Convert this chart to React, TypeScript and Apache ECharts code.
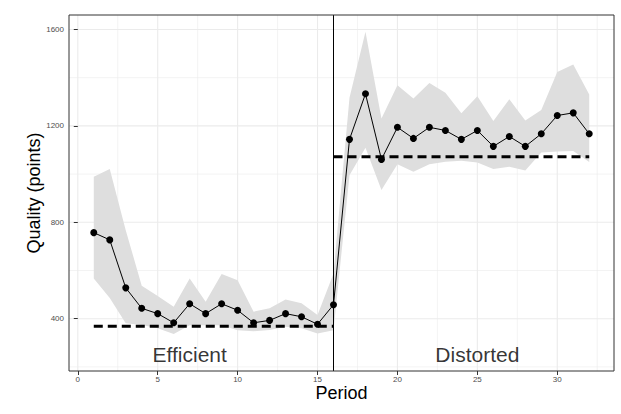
import React, { useEffect, useRef } from "react";
import * as echarts from "echarts";

const periods = [1, 2, 3, 4, 5, 6, 7, 8, 9, 10, 11, 12, 13, 14, 15, 16, 17, 18, 19, 20, 21, 22, 23, 24, 25, 26, 27, 28, 29, 30, 31, 32];
const quality = [757, 727, 528, 443, 421, 383, 462, 421, 462, 435, 383, 393, 421, 408, 377, 458, 1144, 1333, 1061, 1194, 1148, 1194, 1181, 1144, 1181, 1115, 1156, 1115, 1167, 1243, 1254, 1167];
const upperCI = [989, 1021, 767, 537, 494, 450, 567, 470, 585, 560, 429, 443, 480, 464, 415, 588, 1317, 1590, 1231, 1369, 1314, 1378, 1337, 1252, 1323, 1220, 1310, 1222, 1266, 1424, 1455, 1330];
const lowerCI = [567, 486, 381, 374, 360, 337, 373, 373, 373, 352, 348, 353, 367, 360, 339, 352, 995, 1109, 934, 1041, 1010, 1041, 1051, 1055, 1048, 1021, 1030, 1015, 1090, 1094, 1096, 1050];

const efficientLevel = [[1, 369], [16, 369]];
const distortedLevel = [[16, 1072], [32, 1072]];
const treatmentSwitch = 16;

const annotations = [
  { name: "Efficient", value: [7, 250] },
  { name: "Distorted", value: [25, 250] },
];

const xTicks = [0, 5, 10, 15, 20, 25, 30];
const xMinorGrid = [2.5, 7.5, 12.5, 17.5, 22.5, 27.5, 32.5];
const yTicks = [400, 800, 1200, 1600];
const yMinorGrid = [200, 600, 1000, 1400];

const X_MIN = -0.55;
const X_MAX = 33.55;
const Y_MIN = 183;
const Y_MAX = 1660;

const FONT = "Liberation Sans, Arial, Helvetica, sans-serif";

export default function App() {
  const ref = useRef<HTMLDivElement>(null);

  useEffect(() => {
    if (!ref.current) return;
    const chart = echarts.init(ref.current, null, { renderer: "svg" });

    const gridRender = (params: any, api: any) => {
      if (params.dataIndex !== 0) return null;
      const children: any[] = [];
      const vline = (x: number, major: boolean) => {
        const a = api.coord([x, Y_MIN]);
        const b = api.coord([x, Y_MAX]);
        children.push({
          type: "line",
          shape: { x1: a[0], y1: a[1], x2: b[0], y2: b[1] },
          style: { stroke: "#EBEBEB", lineWidth: major ? 1.1 : 0.6 },
        });
      };
      const hline = (y: number, major: boolean) => {
        const a = api.coord([X_MIN, y]);
        const b = api.coord([X_MAX, y]);
        children.push({
          type: "line",
          shape: { x1: a[0], y1: a[1], x2: b[0], y2: b[1] },
          style: { stroke: "#EBEBEB", lineWidth: major ? 1.1 : 0.6 },
        });
      };
      xMinorGrid.forEach((v) => vline(v, false));
      yMinorGrid.forEach((v) => hline(v, false));
      xTicks.forEach((v) => vline(v, true));
      yTicks.forEach((v) => hline(v, true));
      return { type: "group", children };
    };

    const ribbonRender = (params: any, api: any) => {
      if (params.dataIndex !== 0) return null;
      const pts: number[][] = [];
      for (let i = 0; i < periods.length; i++) pts.push(api.coord([periods[i], upperCI[i]]));
      for (let i = periods.length - 1; i >= 0; i--) pts.push(api.coord([periods[i], lowerCI[i]]));
      return { type: "polygon", shape: { points: pts }, style: { fill: "#DEDEDE" } };
    };

    chart.setOption({
      animation: false,
      grid: {
        left: 69,
        right: 7,
        top: 15,
        bottom: 43,
        show: true,
        borderColor: "#333333",
        borderWidth: 1,
        backgroundColor: "transparent",
        z: 10,
      },
      xAxis: {
        type: "value",
        min: X_MIN,
        max: X_MAX,
        axisLine: { show: false },
        splitLine: { show: false },
        axisTick: { show: true, customValues: xTicks, length: 4, lineStyle: { color: "#333333", width: 1 } },
        axisLabel: {
          customValues: xTicks,
          fontSize: 8,
          color: "#4D4D4D",
          margin: 4,
          fontFamily: FONT,
          formatter: (v: number) => String(v),
        },
      },
      yAxis: {
        type: "value",
        min: Y_MIN,
        max: Y_MAX,
        axisLine: { show: false },
        splitLine: { show: false },
        axisTick: { show: true, customValues: yTicks, length: 4, lineStyle: { color: "#333333", width: 1 } },
        axisLabel: {
          customValues: yTicks,
          fontSize: 8,
          color: "#4D4D4D",
          margin: 5,
          fontFamily: FONT,
          formatter: (v: number) => String(v),
        },
      },
      graphic: [
        {
          type: "text",
          x: 34,
          y: 193,
          rotation: Math.PI / 2,
          style: { text: "Quality (points)", fontSize: 18, fill: "#000", align: "center", verticalAlign: "middle", fontFamily: FONT },
        },
        {
          type: "text",
          x: 341.5,
          y: 393,
          style: { text: "Period", fontSize: 18, fill: "#000", align: "center", verticalAlign: "middle", fontFamily: FONT },
        },
      ],
      series: [
        {
          type: "custom",
          name: "grid",
          renderItem: gridRender,
          data: [[0, 0]],
          silent: true,
          z: 0,
        },
        {
          type: "custom",
          name: "ci",
          renderItem: ribbonRender,
          data: periods.map((p, i) => [p, lowerCI[i], upperCI[i]]),
          encode: { x: 0, y: [1, 2] },
          silent: true,
          z: 1,
        },
        {
          type: "line",
          data: efficientLevel,
          showSymbol: false,
          symbol: "none",
          lineStyle: { color: "#000", width: 3, type: [9, 5] },
          z: 2,
        },
        {
          type: "line",
          data: distortedLevel,
          showSymbol: false,
          symbol: "none",
          lineStyle: { color: "#000", width: 3, type: [9, 5] },
          z: 2,
        },
        {
          type: "line",
          data: [[treatmentSwitch, Y_MIN], [treatmentSwitch, Y_MAX]],
          showSymbol: false,
          symbol: "none",
          lineStyle: { color: "#000", width: 1 },
          z: 2,
        },
        {
          type: "line",
          data: periods.map((p, i) => [p, quality[i]]),
          symbol: "circle",
          symbolSize: 7,
          showSymbol: true,
          itemStyle: { color: "#000" },
          lineStyle: { color: "#000", width: 1 },
          z: 3,
        },
        {
          type: "scatter",
          data: annotations,
          symbolSize: 1,
          itemStyle: { color: "rgba(0,0,0,0)" },
          label: {
            show: true,
            position: "inside",
            formatter: (p: any) => p.name,
            fontSize: 21,
            color: "#000",
            fontFamily: FONT,
          },
          z: 4,
        },
      ],
    });

    return () => chart.dispose();
  }, []);

  return (
    <div
      ref={ref}
      style={{ position: "fixed", left: 0, top: 0, width: 621, height: 414, background: "#fff" }}
    />
  );
}
